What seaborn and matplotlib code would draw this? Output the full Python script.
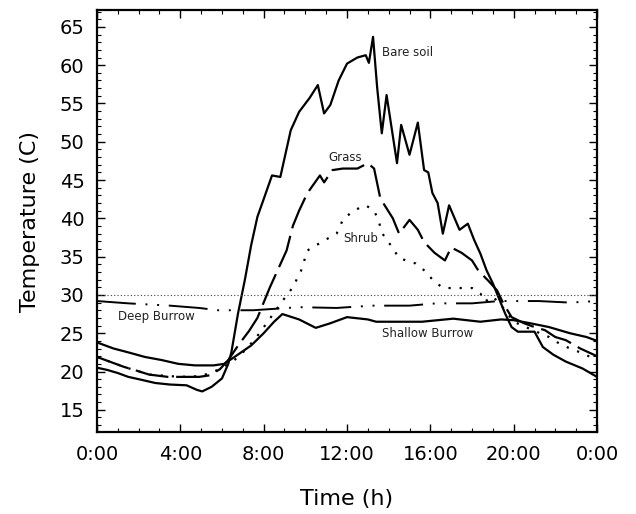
import matplotlib
matplotlib.use("Agg")
import matplotlib.pyplot as plt
import seaborn as sns
import pandas as pd

# ---------------- data ----------------
bare_h = [0.0, 0.5, 1.0, 1.5, 2.0, 2.8, 3.5, 4.3, 4.8, 5.05, 5.5, 6.0, 6.3, 6.45, 6.77, 7.1, 7.4,
          7.7, 8.0, 8.4, 8.8, 9.3, 9.7, 10.2, 10.6, 10.9, 11.2, 11.6, 12.0, 12.5, 12.9, 13.05,
          13.25, 13.45, 13.67, 13.9, 14.4, 14.6, 15.0, 15.4, 15.7, 15.9, 16.1, 16.35, 16.6,
          16.9, 17.4, 17.8, 18.1, 18.4, 18.7, 19.0, 19.3, 19.6, 19.9, 20.2, 21.0, 21.4, 21.9,
          22.5, 23.3, 24.0]
bare_t = [20.5, 20.2, 19.8, 19.3, 19.0, 18.5, 18.3, 18.2, 17.6, 17.4, 18.0, 19.1, 21.0, 22.5, 27.6,
          32.0, 36.5, 40.2, 42.5, 45.6, 45.4, 51.5, 53.9, 55.7, 57.4, 53.7, 54.8, 58.0, 60.2,
          61.0, 61.3, 60.3, 63.7, 57.0, 51.1, 56.1, 47.2, 52.2, 48.3, 52.5, 46.3, 46.0, 43.3,
          42.0, 38.0, 41.7, 38.5, 39.3, 37.2, 35.4, 33.2, 31.5, 29.5, 27.5, 25.8, 25.2, 25.2,
          23.2, 22.2, 21.3, 20.4, 19.3]

grass_h = [0.0, 0.7, 1.3, 1.8, 2.5, 3.4, 4.2, 4.9, 5.4, 5.9, 6.3, 6.8, 7.3, 7.7, 8.0, 8.3, 8.6,
           9.1, 9.4, 9.7, 10.1, 10.7, 10.9, 11.3, 11.8, 12.5, 13.0, 13.3, 13.6, 14.2, 14.5, 15.0,
           15.4, 15.7, 16.2, 16.7, 17.0, 17.5, 18.0, 18.3, 18.8, 19.2, 19.5, 19.9, 20.5, 21.0,
           21.5, 22.0, 22.5, 23.2, 24.0]
grass_t = [21.9, 21.2, 20.6, 20.2, 19.6, 19.3, 19.3, 19.3, 19.5, 20.3, 21.5, 23.5, 25.3, 27.0,
           29.0, 31.0, 32.8, 35.8, 39.0, 41.0, 43.3, 45.6, 44.7, 46.3, 46.5, 46.5, 47.2, 46.5,
           42.6, 40.0, 38.0, 39.8, 38.5, 36.9, 35.5, 34.5, 36.2, 35.5, 34.5, 33.2, 31.8, 30.6,
           28.9, 27.1, 26.3, 25.8, 25.4, 24.5, 24.1, 23.0, 22.0]

shrub_h = [0.0, 1.3, 2.5, 4.0, 5.0, 5.9, 6.6, 7.2, 7.8, 8.4, 8.9, 9.4, 9.8, 10.1, 10.9, 11.5,
           11.8, 12.3, 12.9, 13.3, 13.5, 13.7, 14.2, 14.5, 15.3, 15.8, 16.1, 16.6, 17.4, 18.0,
           18.4, 18.6, 19.0, 19.5, 20.0, 21.0, 21.7, 22.1, 22.7, 23.2, 24.0]
shrub_t = [21.9, 20.6, 19.6, 19.3, 19.4, 20.3, 21.5, 23.0, 25.0, 27.3, 29.2, 31.0, 33.2, 35.8,
           37.1, 38.0, 39.8, 41.0, 41.7, 41.0, 39.8, 38.0, 36.1, 34.8, 34.1, 33.0, 32.0, 30.9,
           30.9, 30.9, 30.2, 29.1, 29.8, 28.3, 26.5, 25.3, 24.5, 23.8, 23.0, 22.5, 21.5]

shallow_h = [0.0, 0.8, 1.5, 2.3, 3.1, 3.9, 4.7, 5.6, 6.1, 6.6, 7.4, 8.0, 8.5, 8.9, 9.7, 10.5,
             11.2, 12.0, 13.0, 13.4, 15.6, 17.1, 18.4, 19.4, 20.0, 20.8, 21.7, 22.7, 23.5, 24.0]
shallow_t = [23.8, 23.0, 22.5, 21.9, 21.5, 21.0, 20.8, 20.8, 21.0, 21.9, 23.4, 25.0, 26.5, 27.5,
             26.8, 25.7, 26.3, 27.1, 26.8, 26.5, 26.5, 26.9, 26.5, 26.8, 26.7, 26.3, 25.8, 25.0,
             24.5, 24.0]

deep_h = [0.0, 1.5, 3.5, 4.9, 5.8, 7.5, 9.7, 11.5, 13.2, 15.0, 16.3, 18.0, 19.3, 21.2, 22.7, 24.0]
deep_t = [29.2, 28.9, 28.6, 28.3, 28.0, 28.0, 28.4, 28.3, 28.6, 28.6, 28.9, 28.9, 29.2, 29.2,
          29.0, 29.2]

reference_temp = 30.0

x_ticks = [0, 4, 8, 12, 16, 20, 24]
x_tick_labels = ["0:00", "4:00", "8:00", "12:00", "16:00", "20:00", "0:00"]
y_ticks = [15, 20, 25, 30, 35, 40, 45, 50, 55, 60, 65]

label_names = ["Bare soil", "Grass", "Shrub", "Deep Burrow", "Shallow Burrow"]
label_x = [13.7, 11.1, 11.8, 1.0, 13.7]
label_y = [61.6, 48.0, 37.4, 27.2, 25.0]

# ---------------- styling ----------------
sns.set_theme(style="ticks")
plt.rcParams["font.family"] = ["DejaVu Sans"]
plt.rcParams["text.color"] = "black"
plt.rcParams["axes.labelcolor"] = "black"
plt.rcParams["xtick.color"] = "black"
plt.rcParams["ytick.color"] = "black"

fig = plt.figure(figsize=(6.36, 5.14), dpi=100)
ax = fig.add_axes([0.1525, 0.1595, 0.7862, 0.821])

series = [
    (bare_h, bare_t, "-", 1.6),
    (grass_h, grass_t, (0, (15, 3.5)), 1.6),
    (shrub_h, shrub_t, (0, (1.0, 4.0)), 1.6),
    (shallow_h, shallow_t, "-", 1.6),
    (deep_h, deep_t, (0, (20, 5, 1, 5, 1, 5)), 1.4),
]
for hx, ty, ls, lw in series:
    df = pd.DataFrame({"h": hx, "t": ty})
    sns.lineplot(data=df, x="h", y="t", ax=ax, color="black", linestyle=ls,
                 linewidth=lw, estimator=None, sort=False)

ax.axhline(reference_temp, color="#444444", linestyle=(0, (1, 2)), linewidth=0.8)

for name, lx, ly in zip(label_names, label_x, label_y):
    ax.text(lx, ly, name, fontsize=8.5, color="#222222", ha="left", va="center")

ax.set_xlim(0, 24)
ax.set_ylim(12.1, 67.2)
ax.set_xticks(x_ticks)
ax.set_xticklabels(x_tick_labels)
ax.set_xticks(range(0, 25), minor=True)
ax.set_yticks(y_ticks)
ax.set_yticks(range(13, 68), minor=True)

ax.tick_params(which="both", direction="in", top=True, right=True, colors="black",
               labelcolor="black")
ax.tick_params(which="major", length=6, width=1.0, labelsize=14, pad=9)
ax.tick_params(which="minor", length=3, width=0.8)
for sp in ax.spines.values():
    sp.set_linewidth(1.6)
    sp.set_color("black")

ax.set_xlabel("Time (h)", fontsize=16, labelpad=18, color="black")
ax.set_ylabel("Temperature (C)", fontsize=16, labelpad=14, color="black")

fig.savefig("out.png", dpi=100)
